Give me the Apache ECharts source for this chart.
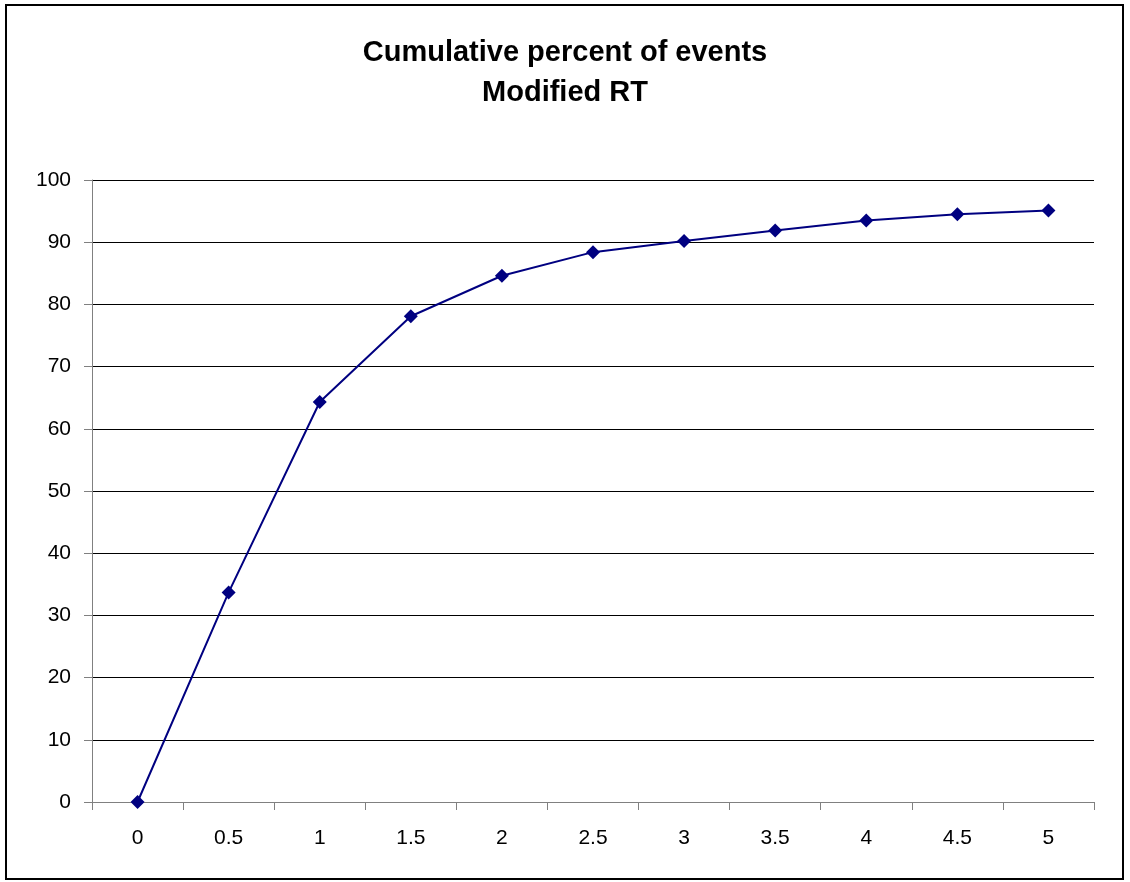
<!DOCTYPE html>
<html><head><meta charset="utf-8">
<script src="https://cdn.jsdelivr.net/npm/echarts@6/dist/echarts.min.js"></script>
<style>html,body{margin:0;padding:0;background:#fff}#c{width:1130px;height:882px}</style>
</head><body><div id="c"></div>
<script>
const titleLines = ['Cumulative percent of events', 'Modified RT'];
const categories = ['0', '0.5', '1', '1.5', '2', '2.5', '3', '3.5', '4', '4.5', '5'];
const cumulativePercent = [0, 33.7, 64.3, 78.1, 84.6, 88.4, 90.2, 91.9, 93.5, 94.5, 95.1];
const yTicks = {min: 0, max: 100, interval: 10};

const chart = echarts.init(document.getElementById('c'), null, {renderer: 'canvas'});
chart.setOption({
  backgroundColor: '#fff',
  animation: false,
  title: {
    text: titleLines.join('\n'),
    left: 'center', top: 28,
    textStyle: {fontFamily: 'Liberation Sans', fontWeight: 'bold', fontSize: 29, color: '#000', lineHeight: 40}
  },
  graphic: [{
    type: 'rect', shape: {x: 6, y: 5, width: 1117, height: 874},
    style: {fill: 'none', stroke: '#000', lineWidth: 2}, silent: true
  }],
  grid: {left: 92, right: 36, top: 180, bottom: 80, containLabel: false},
  xAxis: {
    type: 'category', data: categories, boundaryGap: true,
    axisLine: {show: true, lineStyle: {color: '#808080', width: 1}},
    axisTick: {show: true, length: 8, inside: false, alignWithLabel: false, lineStyle: {color: '#808080'}},
    axisLabel: {margin: 26, fontFamily: 'Liberation Sans', fontSize: 21, color: '#000'},
    splitLine: {show: false}
  },
  yAxis: {
    type: 'value', min: yTicks.min, max: yTicks.max, interval: yTicks.interval,
    axisLine: {show: true, lineStyle: {color: '#808080', width: 1}},
    axisTick: {show: true, length: 8, lineStyle: {color: '#808080'}},
    axisLabel: {margin: 21, fontFamily: 'Liberation Sans', fontSize: 21, color: '#000'},
    splitLine: {show: true, lineStyle: {color: '#000', width: 1}}
  },
  series: [{
    type: 'line', data: cumulativePercent,
    symbol: 'diamond', symbolSize: 14,
    lineStyle: {color: '#000080', width: 2},
    itemStyle: {color: '#000080'}
  }]
});
</script></body></html>
